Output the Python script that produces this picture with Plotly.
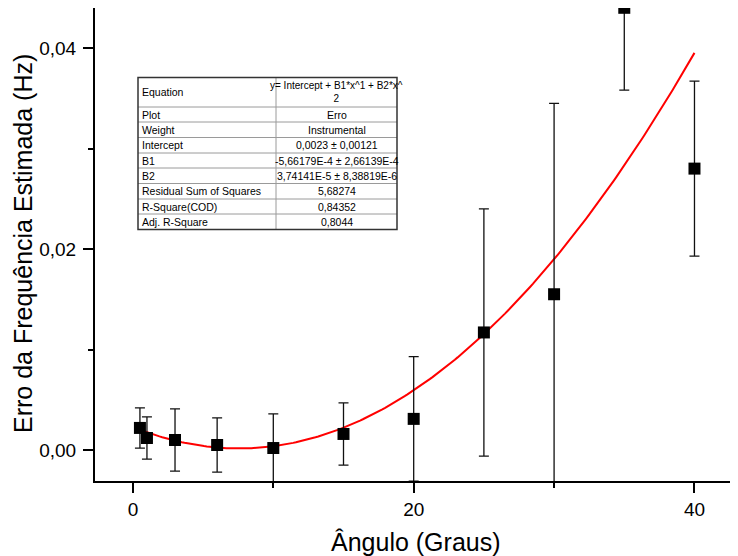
import numpy as np
import plotly.graph_objects as go

# ---- data ----
angulo = [0.5, 1, 3, 6, 10, 15, 20, 25, 30, 35, 40]
erro_freq = [0.0022, 0.0012, 0.0010, 0.0005, 0.0002, 0.0016, 0.0031, 0.0117, 0.0155, 0.0440, 0.0280]
erro_bar = [0.0020, 0.0021, 0.0031, 0.0027, 0.0034, 0.0031, 0.0062, 0.0123, 0.0190, 0.0082, 0.0087]

# fit coefficients (from the fit table)
intercept = 0.0023
b1 = -5.66179e-4
b2 = 3.74141e-5

x_ticks = [0, 20, 40]
y_ticks = [0.0, 0.02, 0.04]

table_labels = ["Equation", "Plot", "Weight", "Intercept", "B1", "B2",
                "Residual Sum of Squares", "R-Square(COD)", "Adj. R-Square"]
table_values = ["y= Intercept + B1*x^1 + B2*x^<br>2", "Erro", "Instrumental",
                "0,0023 ± 0,00121", "-5,66179E-4 ± 2,66139E-4",
                "3,74141E-5 ± 8,38819E-6", "5,68274", "0,84352", "0,8044"]

FONT = "Arial, Liberation Sans, sans-serif"
PAGE_W, PAGE_H = 738, 556
OFF = 8  # default body margin of the html page
# plot box in page pixels
L, R, T, B = 95, 738, 8, 481


def px(xp):
    return (xp - L) / (R - L)


def py(yp):
    return (B - yp) / (B - T)


xfit = np.linspace(angulo[0], angulo[-1], 200)
yfit = intercept + b1 * xfit + b2 * xfit ** 2

fig = go.Figure()
fig.add_trace(go.Scatter(x=xfit, y=yfit, mode="lines",
                         line=dict(color="red", width=2), showlegend=False))
fig.add_trace(go.Scatter(
    x=angulo, y=erro_freq, mode="markers",
    marker=dict(symbol="square", size=12, color="black"),
    error_y=dict(type="data", array=erro_bar, visible=True,
                 color="#111111", thickness=1.3, width=5),
    showlegend=False))

# ---- fit table ----
shapes = []
annos = []
row_edges = [77.5, 107, 122, 137.5, 153, 168, 183.5, 199, 214, 229.5]
x0, xm, x1 = 138, 276, 397
for y in row_edges[1:-1]:
    shapes.append(dict(type="line", xref="paper", yref="paper",
                       x0=px(x0), x1=px(x1), y0=py(y), y1=py(y),
                       line=dict(color="#9a9a9a", width=1)))
shapes.append(dict(type="line", xref="paper", yref="paper",
                   x0=px(xm), x1=px(xm), y0=py(row_edges[0]), y1=py(row_edges[-1]),
                   line=dict(color="#9a9a9a", width=1)))
shapes.append(dict(type="rect", xref="paper", yref="paper",
                   x0=px(x0), x1=px(x1), y0=py(row_edges[-1]), y1=py(row_edges[0]),
                   line=dict(color="#333333", width=1.5), fillcolor="rgba(0,0,0,0)"))

for i, (lab, val) in enumerate(zip(table_labels, table_values)):
    yc = (row_edges[i] + row_edges[i + 1]) / 2
    annos.append(dict(x=px(x0 + 2), y=py(yc), xref="paper", yref="paper",
                      text=lab, showarrow=False, xanchor="left", yanchor="middle",
                      font=dict(family=FONT, size=10.5, color="black")))
    annos.append(dict(x=px((xm + x1) / 2), y=py(yc), xref="paper", yref="paper",
                      text=val, showarrow=False, xanchor="center", yanchor="middle",
                      font=dict(family=FONT, size=10.5 if i else 10, color="black")))

# axis titles
annos.append(dict(x=px(416), y=py(542), xref="paper", yref="paper",
                  text="Ângulo (Graus)", showarrow=False, xanchor="center", yanchor="middle",
                  font=dict(family=FONT, size=25, color="black")))
annos.append(dict(x=px(23), y=py(244), xref="paper", yref="paper",
                  text="Erro da Frequência Estimada (Hz)", showarrow=False, textangle=-90,
                  xanchor="center", yanchor="middle",
                  font=dict(family=FONT, size=25, color="black")))

fig.update_layout(
    width=PAGE_W - OFF, height=PAGE_H - OFF,
    margin=dict(l=L - OFF, r=PAGE_W - R, t=T - OFF, b=PAGE_H - B, autoexpand=False),
    paper_bgcolor="white", plot_bgcolor="white",
    separators=",.",
    font=dict(family=FONT, color="black"),
    shapes=shapes, annotations=annos,
    xaxis=dict(range=[-2.7, 43.1], tickvals=x_ticks, showgrid=False, zeroline=False,
               showline=True, linecolor="black", linewidth=2, automargin=False,
               ticks="outside", ticklen=10, tickwidth=2, tickcolor="black",
               minor=dict(dtick=10, tick0=0, ticks="outside", ticklen=5, tickwidth=2, tickcolor="black"),
               tickfont=dict(size=19, family=FONT)),
    yaxis=dict(range=[-0.00308, 0.04398], tickvals=y_ticks, tickformat=".2f",
               showgrid=False, zeroline=False, automargin=False,
               showline=True, linecolor="black", linewidth=2,
               ticks="outside", ticklen=10, tickwidth=2, tickcolor="black",
               minor=dict(dtick=0.01, tick0=0, ticks="outside", ticklen=5, tickwidth=2, tickcolor="black"),
               tickfont=dict(size=19, family=FONT), ticklabelstandoff=3),
)

fig.write_html("out.html")
